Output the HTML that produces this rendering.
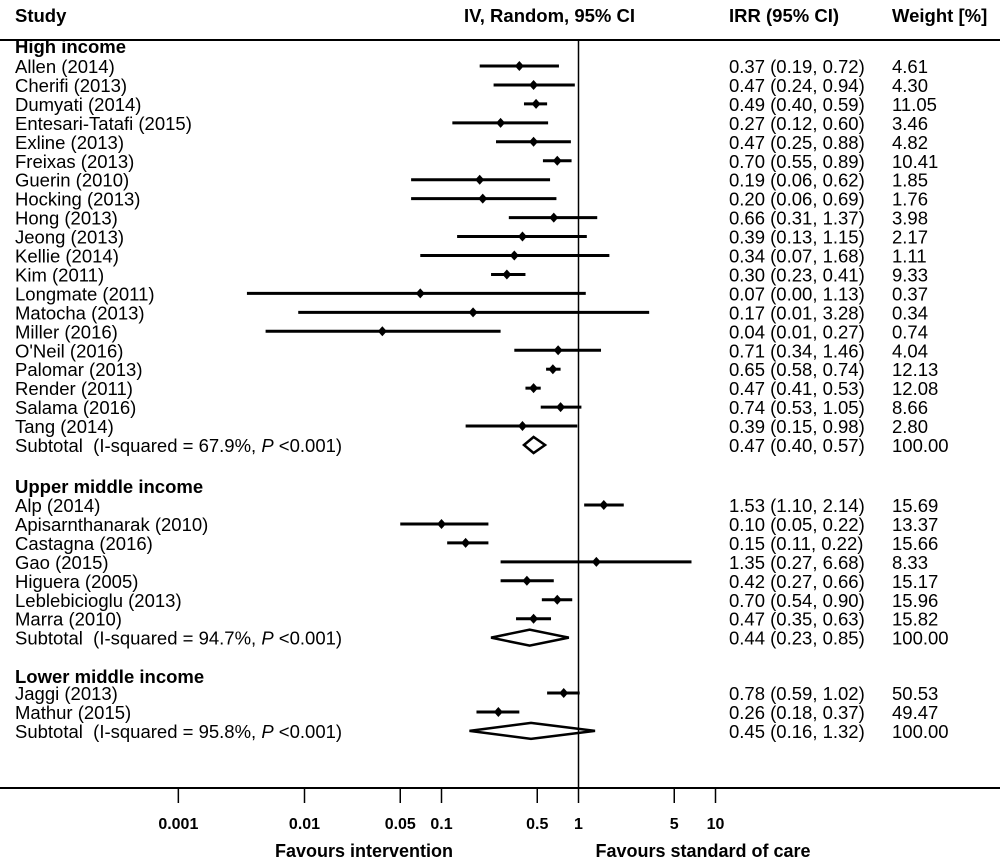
<!DOCTYPE html>
<html><head><meta charset="utf-8"><style>
body{margin:0;background:#fff;}
svg{display:block;font-family:"Liberation Sans",Arial,sans-serif;}
text{font-size:18.5px;fill:#000;}
.b{font-weight:bold;}
.t{font-size:16px;font-weight:bold;}
</style></head><body>
<svg id="chart" width="1000" height="861" viewBox="0 0 1000 861" xmlns="http://www.w3.org/2000/svg">
<g id="static">
<text x="15" y="22" class="b">Study</text>
<text x="464" y="22" class="b">IV, Random, 95% CI</text>
<text x="729" y="22" class="b">IRR (95% CI)</text>
<text x="892" y="22" class="b">Weight [%]</text>
<line x1="0" y1="40" x2="1000" y2="40" stroke="#000" stroke-width="2"/>
<line x1="0" y1="788" x2="1000" y2="788" stroke="#000" stroke-width="2"/>
<text x="364" y="857" text-anchor="middle" class="b" style="font-size:18px">Favours intervention</text>
<text x="703" y="857" text-anchor="middle" class="b" style="font-size:18px">Favours standard of care</text>
</g>
<g id="marks"></g>
</svg>
<script>
const groups = ["High income","Upper middle income","Lower middle income"];
const groupY = [47, 487, 677];
const studies = ["Allen (2014)","Cherifi (2013)","Dumyati (2014)","Entesari-Tatafi (2015)","Exline (2013)","Freixas (2013)","Guerin (2010)","Hocking (2013)","Hong (2013)","Jeong (2013)","Kellie (2014)","Kim (2011)","Longmate (2011)","Matocha (2013)","Miller (2016)","O'Neil (2016)","Palomar (2013)","Render (2011)","Salama (2016)","Tang (2014)",
"Alp (2014)","Apisarnthanarak (2010)","Castagna (2016)","Gao (2015)","Higuera (2005)","Leblebicioglu (2013)","Marra (2010)",
"Jaggi (2013)","Mathur (2015)"];
const studyGroup = [0,0,0,0,0,0,0,0,0,0,0,0,0,0,0,0,0,0,0,0,1,1,1,1,1,1,1,2,2];
const irr = [0.37,0.47,0.49,0.27,0.47,0.70,0.19,0.20,0.66,0.39,0.34,0.30,0.07,0.17,0.037,0.71,0.65,0.47,0.74,0.39,1.53,0.10,0.15,1.35,0.42,0.70,0.47,0.78,0.26];
const lower = [0.19,0.24,0.40,0.12,0.25,0.55,0.06,0.06,0.31,0.13,0.07,0.23,0.0038,0.009,0.0052,0.34,0.58,0.41,0.53,0.15,1.10,0.05,0.11,0.27,0.27,0.54,0.35,0.59,0.18];
const upper = [0.72,0.94,0.59,0.60,0.88,0.89,0.62,0.69,1.37,1.15,1.68,0.41,1.13,3.28,0.27,1.46,0.74,0.53,1.05,0.98,2.14,0.22,0.22,6.68,0.66,0.90,0.63,1.02,0.37];
const weight = ["4.61","4.30","11.05","3.46","4.82","10.41","1.85","1.76","3.98","2.17","1.11","9.33","0.37","0.34","0.74","4.04","12.13","12.08","8.66","2.80","15.69","13.37","15.66","8.33","15.17","15.96","15.82","50.53","49.47"];
const subI2 = ["67.9%","94.7%","95.8%"];
const subIrr = [0.47,0.44,0.45];
const subLow = [0.40,0.23,0.16];
const subUp = [0.57,0.85,1.32];
const ticks = [0.001,0.01,0.05,0.1,0.5,1,5,10];
const tickLabels = ["0.001","0.01","0.05","0.1","0.5","1","5","10"];

const NS="http://www.w3.org/2000/svg";
const marks=document.getElementById('marks');
function x(v){ v=Math.max(v,0.0012); return 578.5+137*Math.log10(v); }
function f(v){return (Math.round(v*100)/100).toFixed(2);}
function el(t,a){const e=document.createElementNS(NS,t);for(const k in a)e.setAttribute(k,a[k]);marks.appendChild(e);return e;}
function txt(s,xx,yy,cls,anchor){const e=el('text',{x:xx,y:yy});e.textContent=s;if(cls)e.setAttribute('class',cls);if(anchor)e.setAttribute('text-anchor',anchor);return e;}

const z=el('line',{x1:x(1),y1:40,x2:x(1),y2:788,stroke:'#000','stroke-width':1.5});



const rowStep=18.95;
const startY=[66,505,693];
let idx=[0,0,0];
groups.forEach((g,i)=>{
  const h=txt(g,15,groupY[i]+6,'b');
  
  
});
const lastY=[0,0,0];
studies.forEach((s,i)=>{
  const g=studyGroup[i];
  const y=startY[g]+idx[g]*rowStep; idx[g]++; lastY[g]=y;
  const t=txt(s,15,y+7);
  
  
  const ln=el('line',{x1:x(lower[i]),y1:y,x2:x(upper[i]),y2:y,stroke:'#000','stroke-width':3});
  
  
  const cx=x(irr[i]);
  const d=el('polygon',{points:`${cx-4.5},${y} ${cx},${y-5} ${cx+4.5},${y} ${cx},${y+5}`,fill:'#000'});
  
  
  const v=txt(`${f(irr[i])} (${f(lower[i])}, ${f(upper[i])})`,729,y+7);
  
  
  const w=txt(weight[i],892,y+7);
  
  
});
groups.forEach((g,i)=>{
  const y=lastY[i]+rowStep;
  const t=el('text',{x:15,y:y+7});
  t.innerHTML=`Subtotal&#160;&#160;(I-squared = ${subI2[i]}, <tspan font-style="italic">P</tspan> &lt;0.001)`;
  
  
  const a=x(subLow[i]),b=x(subUp[i]),c=x(subIrr[i]);
  const d=el('polygon',{points:`${a},${y} ${c},${y-8} ${b},${y} ${c},${y+8}`,fill:'none',stroke:'#000','stroke-width':2.5});
  
  
  const v=txt(`${f(subIrr[i])} (${f(subLow[i])}, ${f(subUp[i])})`,729,y+7);
  
  
  const w=txt('100.00',892,y+7);
  
  
});
ticks.forEach((t,i)=>{
  const tk=el('line',{x1:x(t),y1:788,x2:x(t),y2:803,stroke:'#000','stroke-width':1.5});
  
  
  const l=txt(tickLabels[i],x(t),829,'t','middle');
  
  
});
</script>
</body></html>
